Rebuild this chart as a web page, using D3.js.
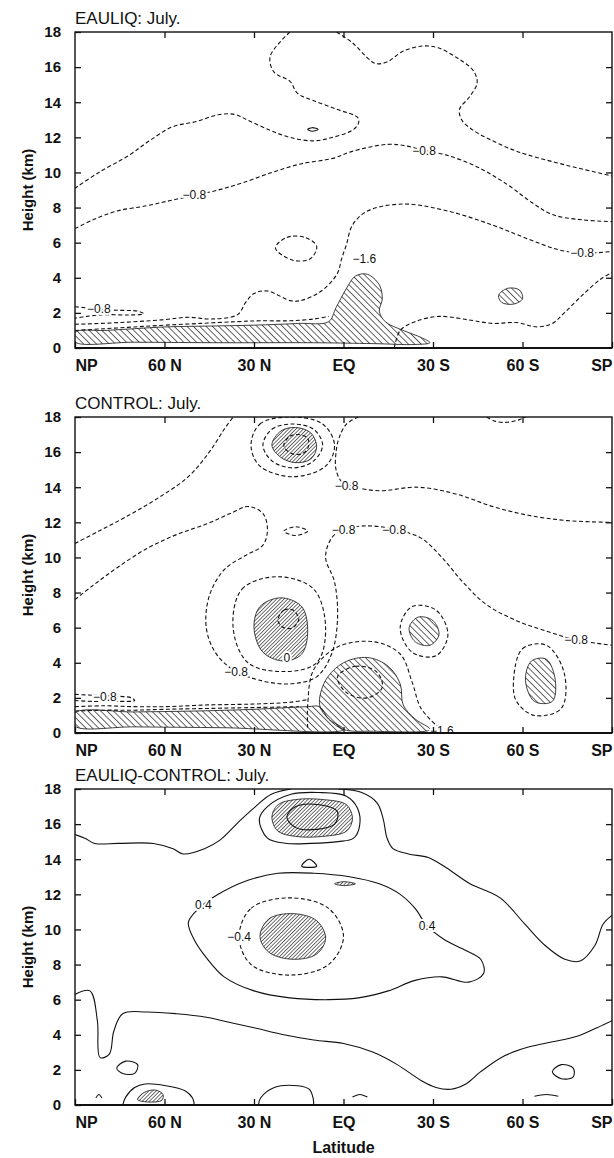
<!DOCTYPE html>
<html><head><meta charset="utf-8">
<script src="https://cdn.jsdelivr.net/npm/d3@7"></script>
<style>body{margin:0;background:#fff}svg{display:block}</style>
</head><body>
<svg id="chart" width="614" height="1158"></svg>
<script>
// Axis definitions
const latTicks = [90, 60, 30, 0, -30, -60, -90];
const latTickLabels = ["NP", "60 N", "30 N", "EQ", "30 S", "60 S", "SP"];
const heightTicks = [0, 2, 4, 6, 8, 10, 12, 14, 16, 18];
const panelTitles = ["EAULIQ: July.", "CONTROL: July.", "EAULIQ-CONTROL: July."];

// ---- EAULIQ panel: contour lines as [latitude, height km] ----
const eauliqUpperA = [[18,18],[24.6,16.6],[23.2,15.7],[18,15.2],[15.4,14.5],[10.2,14.1],[2.3,13.6],[-4.9,13.1],[-4.9,12.75],[-2.9,12.4],[3.6,12.0],[10.2,11.8],[18,12.0],[24.6,12.4],[32.4,13.0],[36.3,13.3],[41.6,13.3],[49.4,12.9],[57.3,12.6],[65.1,11.8],[71.7,11.0],[82,10.0],[90,9.1]];
const eauliqUpperB = [[2.3,18],[-2.9,17.4],[-8.2,16.5],[-10.8,16.2],[-14.7,16.3],[-19.9,16.9],[-26.5,17.2],[-31.7,17.1],[-38.3,16.5],[-43.5,15.8],[-44.8,15.1],[-42.2,14.3],[-38.9,13.6],[-39.6,13.0],[-43.5,12.4],[-50,11.8],[-56.6,11.3],[-61.8,11.0],[-75,10.4],[-90,9.8]];
const eauliqMiddle = [[90,6.8],[84,7.3],[76,7.8],[66,8.1],[58,8.4],[50,8.7],[42,9.0],[34,9.4],[24,10.0],[14,10.5],[3.6,10.8],[-2.9,11.2],[-14.7,11.6],[-21.3,11.5],[-27,11.25],[-34.3,11.0],[-45,10.3],[-55,9.3],[-63,8.3],[-70,7.6],[-80,7.3],[-90,7.2]];
const eauliqLower = [[90,1.35],[75,1.45],[61,1.6],[52,1.75],[44.4,1.65],[35.5,1.9],[32.8,2.6],[30,3.1],[25.6,3.25],[17.8,2.7],[14.4,2.7],[7.8,3.2],[2.2,4.2],[0.6,5.1],[-1,5.9],[-3,7],[-8,7.8],[-20,8.2],[-35,7.8],[-50,7.0],[-62,6.2],[-72,5.6],[-80,5.4],[-90,5.5]];
const eauliqLowest = [[90,1.0],[80,1.1],[70,1.2],[60,1.3],[48,1.4],[36,1.5],[28,1.55],[18,1.55],[10,1.65],[5,1.8]];
const eauliqPolarLoop = [[90,2.35],[84,2.25],[76,2.15],[69,2.1],[67,1.95],[72,1.88],[80,1.9],[86,1.8],[90,1.7]];
const eauliqSouthLow = [[-17,0],[-19,1.0],[-24,1.5],[-32,1.8],[-42,1.6],[-50,1.4],[-58,1.45],[-65,1.2],[-70,1.4],[-74,2.0],[-80,3.0],[-86,3.9],[-90,4.3]];
const eauliqOval = [[22.8,5.7],[19,6.3],[13,6.3],[9,5.8],[11,5.1],[17,5.0]];
const eauliqSpeck = [[12,12.45],[10.5,12.55],[8.5,12.45],[10.5,12.35]];
const eauliqBand = [[90,0.35],[90,0.9],[80,1.0],[70,1.1],[60,1.2],[45,1.25],[30,1.3],[15,1.4],[5,1.5],[2.5,2.3],[-1,3.4],[-4,4.1],[-8,4.2],[-12,3.6],[-13,2.8],[-12,2.1],[-14,1.5],[-20,1.0],[-26,0.6],[-29,0.3],[-24,0.2],[-10,0.25],[10,0.3],[40,0.3],[70,0.33]];
const eauliqSouthBlob = [[-52,3.0],[-55,3.4],[-59,3.3],[-60,2.8],[-57,2.5],[-53,2.6]];
const eauliqLabels = [[82,2.25,"−0.8"],[50,8.7,"−0.8"],[-27,11.25,"−0.8"],[-80,5.4,"−0.8"],[-7,5.1,"−1.6"]];

// ---- CONTROL panel ----
const controlTopRing1 = [[31,16.4],[28,17.6],[18,18.0],[7,17.6],[3,16.4],[6,15.2],[17,14.6],[28,15.2]];
const controlTopRing2 = [[27,16.4],[24,17.3],[17,17.6],[10,17.3],[7,16.4],[10,15.5],[17,15.1],[24,15.5]];
const controlTopCore = [[24,16.4],[21,17.2],[16,17.4],[11,17.1],[9,16.3],[11,15.6],[16,15.4],[21,15.7]];
const controlTopInner = [[20,16.4],[18,16.9],[15,17],[12,16.8],[12,16.2],[14,15.9],[17,15.9],[19,16.1]];
const controlWestUpper = [[90,10.8],[82,11.5],[72,12.4],[62,13.4],[52,14.6],[45,16.0],[40,17.3],[37,18]];
const controlWestMid = [[90,7.6],[84,8.4],[76,9.4],[66,10.5],[56,11.3],[46,11.9],[38,12.5],[32,12.9],[27,12.5],[25.5,11.6],[27,10.7],[33,10.1],[40,9.3],[45,7.8],[46,6.0],[43,4.6],[37,3.6],[28,3.0],[18,2.8],[9,3.2],[4,4.5],[2,6.5],[3,8.6],[6,10.0],[4,11.1],[0,11.6],[-8,11.8],[-17,11.6],[-26,11.1],[-33,10.0],[-40,8.6],[-48,7.3],[-58,6.4],[-68,5.8],[-78,5.3],[-90,5.0]];
const controlNorthEast = [[-5,18],[-1,17.6],[1.5,16.8],[2.5,16],[2.5,15],[0.5,14.3],[-4,14.0],[-12,13.8],[-25,14.0],[-38,13.6],[-50,12.9],[-62,12.4],[-75,12.1],[-90,12.0]];
const controlSouthTop = [[-48,18],[-51,17.75],[-55,17.7],[-59,17.85],[-61,18]];
const controlSmallRing = [[20,11.5],[16,11.75],[12,11.5],[16,11.25]];
const controlMidCore = [[30,6.0],[28,7.2],[21,7.7],[14,7.2],[12,5.8],[14,4.5],[20,4.1],[27,4.6]];
const controlMidInner = [[22,6.4],[20,7.0],[17,7.0],[15,6.5],[17,6.0],[20,6.0]];
const controlMidRing = [[37,6.0],[34,8.2],[22,8.9],[10,8.2],[6,6.0],[9,4.0],[20,3.5],[32,4.0]];
const controlEastBlob = [[-22,6.0],[-25,6.6],[-30,6.4],[-32,5.6],[-29,5.0],[-24,5.2]];
const controlEastRing = [[-19,6.0],[-23,7.2],[-31,7.0],[-35,5.6],[-31,4.4],[-23,4.6]];
const controlSouthBlob = [[-61,3.0],[-63,4.1],[-68,4.2],[-71,3.0],[-70,1.8],[-64,1.8]];
const controlSouthRing = [[-57,3.0],[-60,4.8],[-68,5.0],[-74,3.4],[-73,1.4],[-64,1.0],[-58,1.8]];
const controlEqCore = [[8,1.6],[6,3.0],[0,4.0],[-8,4.3],[-15,3.8],[-19,2.8],[-20,1.6],[-24,0.8],[-29,0.2],[-10,0.1],[0,0.2],[5,0.8]];
const controlEqRing = [[12,0.3],[12,1.6],[10,3.6],[2,4.9],[-10,5.2],[-19,4.5],[-23,2.9],[-26,1.4],[-32,0.3]];
const controlEqInner = [[2,3.2],[-4,3.8],[-11,3.5],[-13,2.6],[-8,2.0],[-1,2.3]];
const controlBand = [[90,0.4],[90,1.15],[70,1.2],[50,1.25],[30,1.35],[12,1.5],[8,1.5],[5,0.8],[0,0.2],[40,0.3],[70,0.35]];
const controlPolarLoop = [[90,2.2],[84,2.15],[76,2.1],[71,2.0],[70,1.85],[76,1.8],[84,1.8],[90,1.85]];
const controlPolarLow = [[90,1.5],[80,1.55],[70,1.5],[60,1.5],[45,1.6],[30,1.65],[18,1.75],[12,1.9]];
const controlPolarLowest = [[90,1.25],[80,1.3],[70,1.3],[60,1.35],[45,1.4],[30,1.45],[15,1.5]];
const controlLabels = [[-1,14.1,"−0.8"],[0,11.6,"−0.8"],[-17,11.6,"−0.8"],[19,4.3,"0"],[36,3.5,"−0.8"],[-78,5.3,"−0.8"],[80,2.05,"−0.8"],[-33,0.1,"−1.6"]];

// ---- EAULIQ-CONTROL panel ----
const diffTopLine = [[90,15.4],[86.7,15.2],[83.4,14.9],[75.5,14.9],[63.7,14.9],[57.1,14.6],[53.8,14.3],[46.6,14.6],[41.3,15.1],[34.7,16.2],[29.5,17],[24.2,17.7],[17.6,18]];
const diffTopLineEast = [[1.8,18],[-6.1,17.8],[-11.3,17.2],[-13.3,16.3],[-14.6,15.2],[-16.6,14.6],[-21.8,14.3],[-28.4,14.1],[-33.7,13.6],[-42.4,12.6],[-52.5,11.8],[-60.8,10.3],[-67.5,9.1],[-74.2,8.3],[-79.3,8.2],[-84.3,9.1],[-87,10.3],[-90,10.8]];
const diffTopRing = [[28.2,16.3],[25.5,17],[17.6,17.7],[8.4,17.8],[-0.8,17.6],[-4.7,16.9],[-5.4,15.9],[-3.4,15.2],[1.8,15],[11,14.9],[19,14.9],[25.5,15.2]];
const diffTopCore = [[24,16.4],[22,17.1],[16,17.4],[7,17.4],[-1,17.1],[-3,16.3],[-1,15.6],[7,15.3],[16,15.3],[22,15.6]];
const diffTopInner = [[19,16.4],[16,17.0],[8,17.1],[2,16.7],[3,16.0],[9,15.7],[16,15.8]];
const diffTopTiny = [[14,13.6],[11.5,14.0],[9,13.6]];
const diffLens = [[3,12.6],[0,12.72],[-4,12.6],[0,12.5]];
const diffBand = [[52,10.4],[48.5,11.2],[42,12.0],[32,12.8],[22,13.2],[10,13.2],[-2,13.0],[-12,12.6],[-19,12.0],[-24,11.2],[-28,10.2],[-34,9.4],[-41,8.8],[-46,8.3],[-47,7.5],[-42,7.0],[-33,7.3],[-24,7.1],[-15,6.5],[-5,6.1],[5,6.0],[18,6.1],[30,6.5],[40,7.3],[46,8.4],[50,9.4]];
const diffMidCore = [[28,9.6],[25,10.6],[17,10.9],[9,10.5],[6,9.5],[9,8.6],[17,8.3],[25,8.7]];
const diffMidRing = [[35,9.6],[31,11.2],[18,11.8],[5,11.2],[0,9.6],[5,8.0],[18,7.4],[31,8.0]];
const diffLower = [[90,6.3],[85,6.5],[82.5,4.8],[81.6,2.7],[78.5,2.9],[77,4.2],[74,5.2],[66,5.3],[56,5.2],[46,5.0],[38,4.7],[30,4.4],[20,4.0],[10,3.7],[0,3.5],[-10,3.0],[-18,2.3],[-26,1.4],[-31,1.0],[-36,0.9],[-41,1.2],[-46,1.9],[-54,2.8],[-62,3.3],[-70,3.6],[-78,3.9],[-85,4.4],[-90,4.8]];
const diffPolarLoop = [[76,2.1],[73,2.5],[69,2.3],[70,1.8],[74,1.8]];
const diffSouthLoop = [[-70,1.9],[-73,2.3],[-77,2.1],[-77,1.6],[-73,1.5]];
const diffNorthArc = [[74,0],[73,0.45],[70,1.0],[66.5,1.2],[59.6,1.1],[53,0.8],[50.6,0.4],[50,0]];
const diffNorthBlob = [[69,0.3],[67,0.7],[63,0.85],[60.5,0.6],[61,0.25]];
const diffTropicArc = [[28.5,0],[27.8,0.4],[23.2,1.0],[15.4,1.1],[11.5,0.9],[10.2,0.4],[10,0]];
const diffCaretA = [[83,0.4],[82,0.6],[81,0.4]];
const diffCaretB = [[-3,0.45],[-5.5,0.6],[-8,0.45]];
const diffCaretC = [[-64,0.5],[-68,0.6],[-72,0.5]];
const diffLabels = [[47,11.4,"0.4"],[-28,10.2,"0.4"],[35,9.6,"−0.4"]];

const svg = d3.select("#chart");
svg.append("rect").attr("width", 614).attr("height", 1158).attr("fill", "#fff");

// hatch patterns
const defs = svg.append("defs");
function addHatch(id, gap, angle, width) {
  const p = defs.append("pattern").attr("id", id).attr("patternUnits", "userSpaceOnUse")
    .attr("width", gap).attr("height", gap).attr("patternTransform", `rotate(${angle})`);
  p.append("line").attr("x1", 0).attr("y1", 0).attr("x2", 0).attr("y2", gap)
    .attr("stroke", "#111").attr("stroke-width", width);
}
addHatch("hatchBack", 4.5, -45, 1.3);
addHatch("hatchDense", 2.6, 45, 1.2);

const x = d3.scaleLinear().domain([90, -90]).range([75, 612]);
const panelTops = [32, 417, 789];
const panelH = 316;
const font = "Liberation Sans, Arial, sans-serif";

const open = d3.line().curve(d3.curveCatmullRom.alpha(0.5));
const closed = d3.line().curve(d3.curveCatmullRomClosed.alpha(0.5));

function panel(i, spec) {
  const top = panelTops[i];
  const y = d3.scaleLinear().domain([0, 18]).range([top + panelH, top]);
  const g = svg.append("g");
  const clipId = "clip" + i;
  defs.append("clipPath").attr("id", clipId).append("rect")
    .attr("x", x(90)).attr("y", top).attr("width", x(-90) - x(90)).attr("height", panelH);
  const body = g.append("g").attr("clip-path", `url(#${clipId})`);
  const P = pts => pts.map(d => [x(d[0]), y(d[1])]);

  (spec.hatch || []).forEach(s => body.append("path").attr("d", closed(P(s.pts)))
    .attr("fill", `url(#${s.dense ? "hatchDense" : "hatchBack"})`).attr("stroke", "#111").attr("stroke-width", 0.8));
  (spec.lines || []).forEach(s => body.append("path").attr("d", (s.loop ? closed : open)(P(s.pts)))
    .attr("fill", "none").attr("stroke", "#111").attr("stroke-width", 1.1)
    .attr("stroke-dasharray", s.dash ? "4,2.5" : null));
  (spec.labels || []).forEach(d => body.append("text").attr("x", x(d[0])).attr("y", y(d[1]))
    .attr("dy", "0.35em").attr("text-anchor", "middle")
    .attr("font-family", font).attr("font-size", 12)
    .attr("stroke", "#fff").attr("stroke-width", 4).attr("paint-order", "stroke")
    .attr("fill", "#111").text(d[2]));

  // frame
  g.append("rect").attr("x", x(90)).attr("y", top).attr("width", x(-90) - x(90)).attr("height", panelH)
    .attr("fill", "none").attr("stroke", "#111").attr("stroke-width", 1.4);
  g.append("line").attr("x1", x(90)).attr("x2", x(-90)).attr("y1", top + panelH).attr("y2", top + panelH)
    .attr("stroke", "#111").attr("stroke-width", 2.2);

  // bottom axis
  const bx = g.append("g").attr("transform", `translate(0,${top + panelH})`)
    .call(d3.axisBottom(x).tickValues(latTicks).tickSizeInner(-6).tickSizeOuter(0).tickPadding(12)
      .tickFormat((d, k) => latTickLabels[k]));
  bx.select(".domain").remove();
  bx.selectAll("text").attr("font-family", font).attr("font-size", 16).attr("font-weight", "bold").attr("fill", "#111")
    .attr("text-anchor", (d, k) => k === 0 ? "start" : k === 6 ? "end" : "middle");
  bx.selectAll("line").attr("stroke", "#111").attr("stroke-width", 1.3);
  // top axis ticks
  const tx = g.append("g").attr("transform", `translate(0,${top})`)
    .call(d3.axisTop(x).tickValues(latTicks.slice(1, 6)).tickSizeInner(-6).tickSizeOuter(0).tickFormat(""));
  tx.select(".domain").remove();
  tx.selectAll("line").attr("stroke", "#111").attr("stroke-width", 1.3);
  // left axis
  const ly = g.append("g").attr("transform", `translate(${x(90)},0)`)
    .call(d3.axisLeft(y).tickValues(heightTicks).tickSizeInner(-6).tickSizeOuter(0).tickPadding(14));
  ly.select(".domain").remove();
  ly.selectAll("text").attr("font-family", font).attr("font-size", 15).attr("font-weight", "bold").attr("fill", "#111");
  ly.selectAll("line").attr("stroke", "#111").attr("stroke-width", 1.3);
  // right axis ticks
  const ry = g.append("g").attr("transform", `translate(${x(-90)},0)`)
    .call(d3.axisRight(y).tickValues(heightTicks.slice(1, 9)).tickSizeInner(-6).tickSizeOuter(0).tickFormat(""));
  ry.select(".domain").remove();
  ry.selectAll("line").attr("stroke", "#111").attr("stroke-width", 1.3);

  g.append("text").attr("x", x(90)).attr("y", top - 8).attr("font-family", font).attr("font-size", 17)
    .attr("fill", "#111").text(panelTitles[i]);
  g.append("text").attr("transform", `translate(33,${top + panelH / 2}) rotate(-90)`).attr("text-anchor", "middle")
    .attr("font-family", font).attr("font-size", 15).attr("font-weight", "bold").attr("fill", "#111").text("Height (km)");
}

panel(0, {
  hatch: [{pts: eauliqBand}, {pts: eauliqSouthBlob}],
  lines: [
    {pts: eauliqUpperA, dash: true}, {pts: eauliqUpperB, dash: true}, {pts: eauliqMiddle, dash: true},
    {pts: eauliqLower, dash: true}, {pts: eauliqLowest, dash: true}, {pts: eauliqPolarLoop, dash: true},
    {pts: eauliqSouthLow, dash: true},
    {pts: eauliqOval, dash: true, loop: true}, {pts: eauliqSpeck, loop: true}
  ],
  labels: eauliqLabels
});
panel(1, {
  hatch: [{pts: controlTopCore, dense: true}, {pts: controlMidCore, dense: true}, {pts: controlEastBlob},
          {pts: controlSouthBlob}, {pts: controlEqCore}, {pts: controlBand}],
  lines: [
    {pts: controlTopRing1, dash: true, loop: true}, {pts: controlTopRing2, dash: true, loop: true},
    {pts: controlTopInner, dash: true, loop: true}, {pts: controlSmallRing, dash: true, loop: true},
    {pts: controlWestUpper, dash: true}, {pts: controlWestMid, dash: true}, {pts: controlNorthEast, dash: true},
    {pts: controlSouthTop, dash: true},
    {pts: controlMidInner, dash: true, loop: true}, {pts: controlMidRing, dash: true, loop: true},
    {pts: controlEastRing, dash: true, loop: true}, {pts: controlSouthRing, dash: true, loop: true},
    {pts: controlEqRing, dash: true}, {pts: controlEqInner, dash: true, loop: true},
    {pts: controlPolarLoop, dash: true}, {pts: controlPolarLow, dash: true}, {pts: controlPolarLowest, dash: true}
  ],
  labels: controlLabels
});
panel(2, {
  hatch: [{pts: diffTopCore, dense: true}, {pts: diffMidCore, dense: true}, {pts: diffNorthBlob, dense: true},
          {pts: diffLens, dense: true}],
  lines: [
    {pts: diffTopLine}, {pts: diffTopLineEast}, {pts: diffTopRing, loop: true}, {pts: diffTopInner, loop: true},
    {pts: diffTopTiny, loop: true}, {pts: diffBand, loop: true},
    {pts: diffMidRing, dash: true, loop: true}, {pts: diffLower},
    {pts: diffPolarLoop, loop: true}, {pts: diffSouthLoop, loop: true},
    {pts: diffNorthArc}, {pts: diffTropicArc}, {pts: diffCaretA}, {pts: diffCaretB}, {pts: diffCaretC}
  ],
  labels: diffLabels
});

svg.append("text").attr("x", x(0)).attr("y", 1153).attr("text-anchor", "middle")
  .attr("font-family", font).attr("font-size", 16).attr("font-weight", "bold")
  .attr("fill", "#111").text("Latitude");
</script>
</body></html>
